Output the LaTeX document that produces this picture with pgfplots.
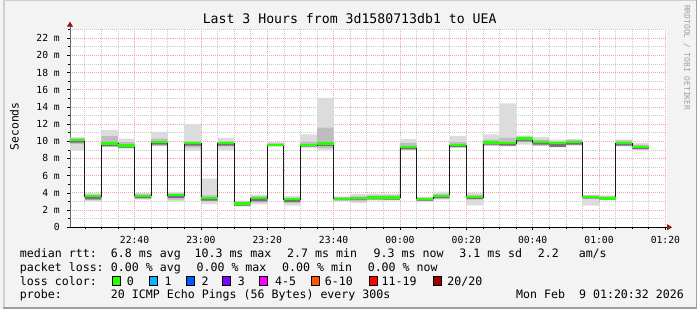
\documentclass[border=0pt]{standalone}
\usepackage{pgfplots}
\pgfplotsset{compat=1.18}
\usepackage{pgfplotstable}
\usepgfplotslibrary{fillbetween}
\usetikzlibrary{arrows.meta}
\usepackage{fontspec}
\newfontfamily\dvm{DejaVu Sans Mono}
\definecolor{bg}{HTML}{F3F3F3}
\definecolor{shadeA}{HTML}{CFCFCF}
\definecolor{shadeB}{HTML}{9E9E9E}
\definecolor{gridred}{HTML}{F2A6A6}
\definecolor{gridgrey}{HTML}{CACACA}
\definecolor{arrowred}{HTML}{8E1A1A}
\definecolor{smokeA}{HTML}{DCDCDC}
\definecolor{smokeB}{HTML}{BDBDBD}
\definecolor{smokeC}{HTML}{747474}
\definecolor{lossA}{HTML}{26FF00}
\definecolor{lossB}{HTML}{00B8FF}
\definecolor{lossC}{HTML}{0059FF}
\definecolor{lossD}{HTML}{7E00FF}
\definecolor{lossE}{HTML}{FF00FF}
\definecolor{lossF}{HTML}{FF5500}
\definecolor{lossG}{HTML}{FF0000}
\definecolor{lossH}{HTML}{A10000}

\pgfplotstableread{
x med lo hi mlo mhi dlo
20.5333 10.15 8.95 10.45 9.7 10.4 9.85
25 3.6 3.0 4.0 3.15 3.8 3.25
30 9.75 9.4 11.3 9.35 10.6 9.45
35 9.5 9.15 10.3 9.2 9.9 9.25
40 3.65 3.2 4.0 3.3 3.85 3.4
45 9.9 9.4 11.1 9.5 10.3 9.6
50 3.75 3.0 4.1 3.2 3.95 3.4
55 9.8 8.9 12.0 9.3 10.0 9.5
60 3.4 2.7 5.65 3.0 3.7 3.1
65 9.8 9.0 10.4 9.4 10.0 9.5
70 2.75 2.4 3.1 2.5 3.0 2.5
75 3.4 2.65 3.8 2.9 3.6 3.0
80 9.55 9.4 9.9 9.4 9.75 9.45
85 3.25 2.5 3.65 2.8 3.45 2.95
90 9.55 9.3 10.8 9.3 9.95 9.4
95 9.75 9.0 15.05 9.2 11.6 9.45
100 3.3 3.1 3.6 3.1 3.5 3.15
105 3.4 2.8 3.85 3.0 3.6 3.2
110 3.45 3.1 3.9 3.2 3.7 3.25
115 3.45 3.1 3.9 3.2 3.7 3.2
120 9.3 8.9 10.25 9.0 9.8 9.1
125 3.3 3.0 3.55 3.05 3.45 3.1
130 3.6 3.2 4.15 3.3 3.85 3.4
135 9.55 9.2 10.6 9.3 9.9 9.35
140 3.5 2.55 4.0 3.2 3.75 3.3
145 9.85 9.5 10.8 9.5 10.2 9.6
150 9.8 9.4 14.4 9.45 10.4 9.5
155 10.3 9.6 10.65 9.9 10.55 10.0
160 9.9 9.45 10.5 9.5 10.2 9.6
165 9.8 9.3 10.2 9.35 10.0 9.35
170 9.9 9.5 10.25 9.55 10.15 9.6
175 3.5 2.5 3.75 3.3 3.7 3.35
180 3.35 3.3 3.7 3.3 3.6 3.3
185 9.8 9.4 10.2 9.5 10.1 9.5
190 9.3 9.0 9.8 9.05 9.6 9.1
195 9.3 9.0 9.8 9.05 9.6 9.1
}\smoke

\begin{document}
\pagecolor{bg}
\begin{tikzpicture}
\begin{axis}[
  at={(67bp,-228.3bp)}, anchor=south west,
  scale only axis, width=600bp, height=199.5bp,
  xmin=20.5333, xmax=200.5333, ymin=0, ymax=23.1,
  axis background/.style={fill=white},
  axis lines=left, separate axis lines,
  x axis line style={draw=black, line width=0.8bp, shorten >=-5bp, -{Triangle[length=5bp,width=6bp,color=arrowred]}},
  y axis line style={draw=black!60, line width=0.8bp, shorten >=-7bp, -{Triangle[length=5bp,width=6bp,color=arrowred]}},
  xtick={40,60,...,200},
  xticklabels={22:40,23:00,23:20,23:40,00:00,00:20,00:40,01:00,01:20},
  minor xtick={25,30,...,200},
  ytick={0,2,...,22},
  yticklabels={0,2 m,4 m,6 m,8 m,10 m,12 m,14 m,16 m,18 m,20 m,22 m},
  minor ytick={1,3,...,23},
  grid=both,
  major grid style={draw=gridred, dash pattern=on 1bp off 1bp, line width=0.7bp},
  minor grid style={draw=gridgrey, dash pattern=on 1bp off 1bp, line width=0.7bp},
  tick align=outside,
  major tick length=3bp, minor tick length=2bp,
  tick style={black, line width=0.6bp},
  xticklabel style={font=\fontsize{9.8}{11}\dvm, anchor=base, inner sep=0pt, yshift=-13.3bp},
  yticklabel style={font=\fontsize{9.8}{11}\dvm, anchor=east, inner sep=0pt, xshift=-7bp},
]
\addplot[name path=hi, draw=none, const plot mark left, forget plot] table[x=x,y=hi]{\smoke};
\addplot[name path=lo, draw=none, const plot mark left, forget plot] table[x=x,y=lo]{\smoke};
\addplot[fill=smokeA, draw=none] fill between[of=hi and lo];
\addplot[name path=mhi, draw=none, const plot mark left, forget plot] table[x=x,y=mhi]{\smoke};
\addplot[name path=mlo, draw=none, const plot mark left, forget plot] table[x=x,y=mlo]{\smoke};
\addplot[fill=smokeB, draw=none] fill between[of=mhi and mlo];
\addplot[name path=dhi, draw=none, const plot mark left, forget plot] table[x=x,y=med]{\smoke};
\addplot[name path=dlo, draw=none, const plot mark left, forget plot] table[x=x,y=dlo]{\smoke};
\addplot[fill=smokeC, draw=none] fill between[of=dhi and dlo];
\addplot[draw=black!90, line width=0.8bp, const plot mark left, mark=none] table[x=x,y=med]{\smoke};
\addplot[draw=lossA, line width=2.4bp, jump mark left, mark=none] table[x=x,y=med]{\smoke};
\end{axis}

\fill[shadeA] (0,0) rectangle (697bp,-1.5bp);
\fill[shadeA] (0,0) rectangle (1.5bp,-310bp);
\fill[shadeB] (0,-308.5bp) rectangle (697bp,-310bp);
\fill[shadeB] (695.5bp,0) rectangle (697bp,-310bp);

\node[anchor=base] at (348bp,-24bp) {\fontsize{13.3}{15}\dvm Last 3 Hours from 3d1580713db1 to UEA};
\node[rotate=90] at (11bp,-127bp) {\fontsize{11.5}{13}\dvm Seconds};
\node[rotate=-90, text=black!38] at (687bp,-58bp) {\fontsize{8}{9}\dvm RRDTOOL / TOBI OETIKER};

\begin{scope}[every node/.style={anchor=base west, inner sep=0pt, font=\fontsize{11.7}{13}\dvm}]
\node at (16.5bp,-259bp) {median rtt:};
\node at (108bp,-259bp) {6.8 ms avg};
\node at (192bp,-259bp) {10.3 ms max};
\node at (285bp,-259bp) {2.7 ms min};
\node at (372bp,-259bp) {9.3 ms now};
\node at (458bp,-259bp) {3.1 ms sd};
\node at (537bp,-259bp) {2.2};
\node at (578bp,-259bp) {am/s};

\node at (16.5bp,-272.7bp) {packet loss:};
\node at (108bp,-272.7bp) {0.00 \% avg};
\node at (194bp,-272.7bp) {0.00 \% max};
\node at (280bp,-272.7bp) {0.00 \% min};
\node at (366bp,-272.7bp) {0.00 \% now};

\node at (16.5bp,-286.5bp) {loss color:};
\node at (124bp,-286.5bp) {0};
\node at (162bp,-286.5bp) {1};
\node at (199bp,-286.5bp) {2};
\node at (235.5bp,-286.5bp) {3};
\node at (273bp,-286.5bp) {4-5};
\node at (323bp,-286.5bp) {6-10};
\node at (380bp,-286.5bp) {11-19};
\node at (446bp,-286.5bp) {20/20};

\node at (16.5bp,-300.2bp) {probe:};
\node at (108bp,-300.2bp) {20 ICMP Echo Pings (56 Bytes) every 300s};
\node[anchor=base east] at (684bp,-300.2bp) {Mon Feb\ \ 9 01:20:32 2026};
\end{scope}

\foreach \bx/\col in {109.5/lossA,146.5/lossB,183.5/lossC,220.5/lossD,257.5/lossE,309/lossF,367.5/lossG,432/lossH}{
  \filldraw[fill=\col, draw=black, line width=0.6bp] (\bx bp,-277.5bp) rectangle ++(8bp,-9bp);
}
\end{tikzpicture}
\end{document}
